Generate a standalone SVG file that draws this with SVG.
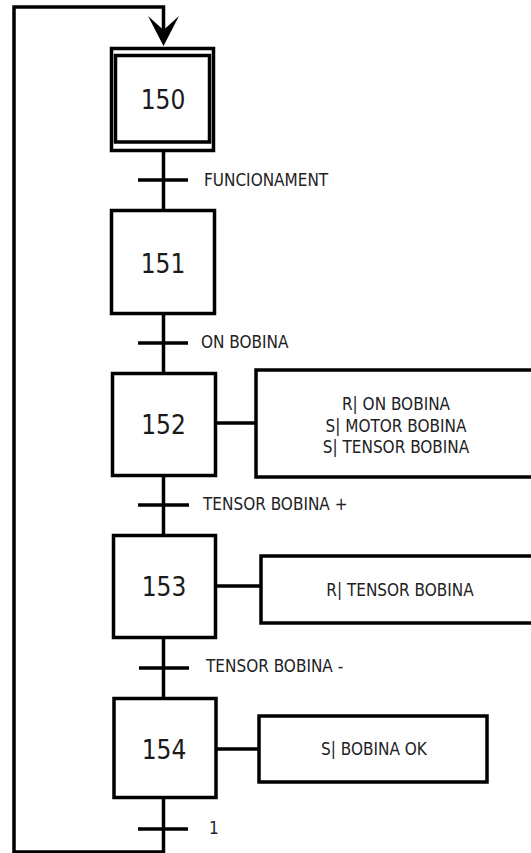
<svg xmlns="http://www.w3.org/2000/svg" width="531" height="853" viewBox="0 0 531 853">
<style>
.box{fill:#fff;stroke:#000;stroke-width:3.5}
.act{fill:#fff;stroke:#000;stroke-width:3.5}
.ln{fill:none;stroke:#000;stroke-width:3.5}
.step{font-family:"DejaVu Sans Condensed","DejaVu Sans",sans-serif;font-stretch:condensed;font-size:26px;fill:#1a1a1a;text-anchor:middle}
.lbl{font-family:"DejaVu Sans Condensed","DejaVu Sans",sans-serif;font-stretch:condensed;font-size:17px;fill:#222}
.atx{font-family:"DejaVu Sans Condensed","DejaVu Sans",sans-serif;font-stretch:condensed;font-size:17px;fill:#222;text-anchor:middle}
</style>
<g id="connectors">
<path class="ln" d="M163.5,152 V209 M163.5,315 V372 M163.5,477 V534 M163.5,639 V697 M163.5,799 V852 H14 V7 H163.5 V30"/>
<path d="M163.5,46 L148,16 Q158,25 163.5,30 Q169,25 179,16 Z" fill="#000"/>
<path class="ln" d="M138,180 H188 M138,343 H188 M138,505 H189 M139,668 H189 M138,829 H188"/>
<path class="ln" d="M217,423 H256 M217,586 H261 M217,749 H259"/>
</g>
<g id="step150">
<rect class="box" x="111.5" y="48.5" width="102" height="102"/>
<rect class="box" x="115.5" y="55.5" width="94" height="86.5"/>
<text class="step" x="163" y="109">150</text>
</g>
<g id="step151">
<rect class="box" x="111.5" y="210.5" width="103" height="103"/>
<text class="step" x="163" y="273">151</text>
</g>
<g id="step152">
<rect class="box" x="112.5" y="373.5" width="103" height="102"/>
<text class="step" x="163.5" y="434">152</text>
</g>
<g id="action152">
<rect class="act" x="256" y="370" width="300" height="107"/>
<text class="atx" x="396" y="410">R| ON BOBINA</text>
<text class="atx" x="396" y="432">S| MOTOR BOBINA</text>
<text class="atx" x="396" y="453">S| TENSOR BOBINA</text>
</g>
<g id="step153">
<rect class="box" x="113.5" y="535.5" width="102" height="102"/>
<text class="step" x="164" y="596">153</text>
</g>
<g id="action153">
<rect class="act" x="261" y="556" width="300" height="67"/>
<text class="atx" x="400" y="596">R| TENSOR BOBINA</text>
</g>
<g id="step154">
<rect class="box" x="114" y="698.5" width="102" height="99"/>
<text class="step" x="164" y="759">154</text>
</g>
<g id="action154">
<rect class="act" x="259" y="716" width="228" height="66"/>
<text class="atx" x="374" y="755">S| BOBINA OK</text>
</g>
<g id="labels">
<text class="lbl" x="204" y="186">FUNCIONAMENT</text>
<text class="lbl" x="201" y="348">ON BOBINA</text>
<text class="lbl" x="203" y="510">TENSOR BOBINA +</text>
<text class="lbl" x="206" y="672">TENSOR BOBINA -</text>
<text class="lbl" x="209" y="834">1</text>
</g>
</svg>
